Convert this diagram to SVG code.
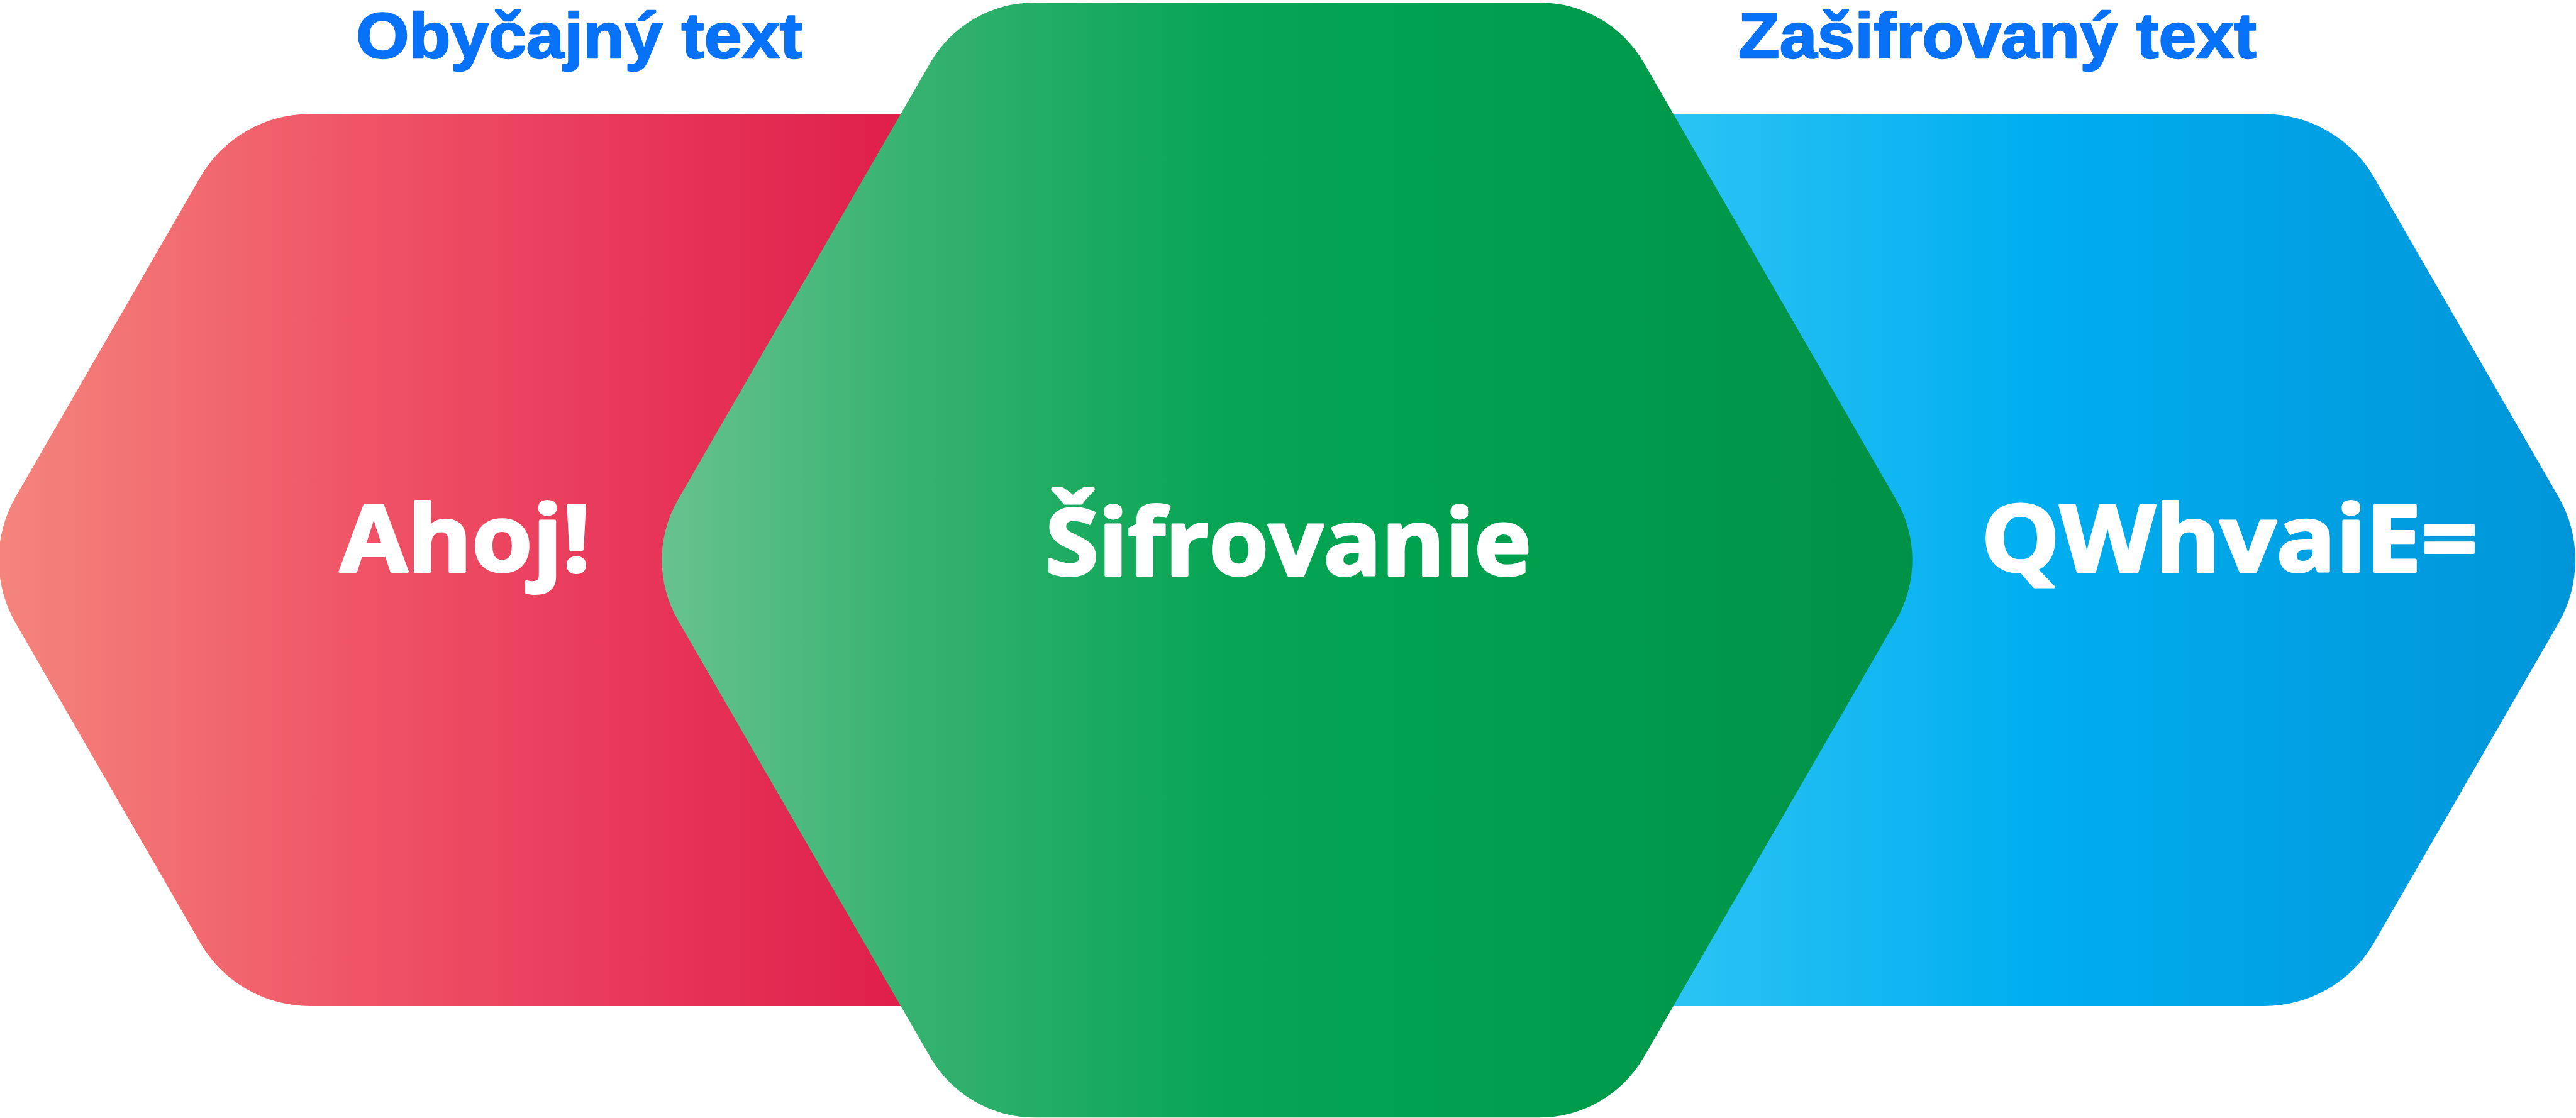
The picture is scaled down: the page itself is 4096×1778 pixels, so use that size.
<svg xmlns="http://www.w3.org/2000/svg" width="4096" height="1778" viewBox="0 0 4096 1778">
  <defs>
    <linearGradient id="gRed" gradientUnits="userSpaceOnUse" x1="0" y1="0" x2="1460" y2="0">
      <stop offset="0" stop-color="#f4857c"/>
      <stop offset="0.4" stop-color="#ef5466"/>
      <stop offset="0.7" stop-color="#e8375a"/>
      <stop offset="1" stop-color="#de1f4a"/>
    </linearGradient>
    <linearGradient id="gGreen" gradientUnits="userSpaceOnUse" x1="1074" y1="0" x2="3094" y2="0">
      <stop offset="0" stop-color="#67c28e"/>
      <stop offset="0.2" stop-color="#36b270"/>
      <stop offset="0.45" stop-color="#06a553"/>
      <stop offset="0.6" stop-color="#00a24f"/>
      <stop offset="1" stop-color="#009146"/>
    </linearGradient>
    <linearGradient id="gBlue" gradientUnits="userSpaceOnUse" x1="2700" y1="0" x2="4167" y2="0">
      <stop offset="0" stop-color="#2cc4f4"/>
      <stop offset="0.4" stop-color="#00aeef"/>
      <stop offset="1" stop-color="#0095d9"/>
    </linearGradient>
  </defs>
  <style>
    .big { font-family: 'Open Sans', 'Liberation Sans', sans-serif; font-weight: 700; font-size: 150px; fill: #ffffff; stroke: #ffffff; stroke-width: 4px; stroke-linejoin: round; }
    .lbl { font-family: 'Liberation Sans', Arial, sans-serif; font-weight: 700; font-size: 103px; fill: #0771f7; stroke: #0771f7; stroke-width: 2.5px; stroke-linejoin: round; }
  </style>
  <rect width="4096" height="1778" fill="#ffffff"/>
  <g transform="scale(0.98296)">
    <g id="node-plain">
      <path fill="url(#gRed)" d="M25.5,803.5 L323.8,286.8 A205,205 0 0 1 501.4,184.3 L1681.6,184.3 A205,205 0 0 1 1859.2,286.8 L2157.5,803.5 A205,205 0 0 1 2157.5,1008.5 L1859.2,1525.2 A205,205 0 0 1 1681.6,1627.7 L501.4,1627.7 A205,205 0 0 1 323.8,1525.2 L25.5,1008.5 A205,205 0 0 1 25.5,803.5 Z"/>
      <text class="big" x="550" y="925" textLength="405" lengthAdjust="spacingAndGlyphs">Ahoj!</text>
      <text class="lbl" x="576" y="94" textLength="722" lengthAdjust="spacingAndGlyphs">Obyčajný text</text>
    </g>
    <g id="node-cipher">
      <path fill="url(#gBlue)" d="M2006.5,803.5 L2304.8,286.8 A205,205 0 0 1 2482.4,184.3 L3662.6,184.3 A205,205 0 0 1 3840.2,286.8 L4138.5,803.5 A205,205 0 0 1 4138.5,1008.5 L3840.2,1525.2 A205,205 0 0 1 3662.6,1627.7 L2482.4,1627.7 A205,205 0 0 1 2304.8,1525.2 L2006.5,1008.5 A205,205 0 0 1 2006.5,803.5 Z"/>
      <text class="big" x="3205" y="925" textLength="803" lengthAdjust="spacingAndGlyphs">QWhvaiE=</text>
      <text class="lbl" x="2812" y="94" textLength="838" lengthAdjust="spacingAndGlyphs">Zašifrovaný text</text>
    </g>
    <g id="node-encrypt">
      <path fill="url(#gGreen)" d="M1096.7,808.5 L1504.9,101.5 A195,195 0 0 1 1673.8,4 L2490.2,4 A195,195 0 0 1 2659.1,101.5 L3067.3,808.5 A195,195 0 0 1 3067.3,1003.5 L2659.1,1710.5 A195,195 0 0 1 2490.2,1808 L1673.8,1808 A195,195 0 0 1 1504.9,1710.5 L1096.7,1003.5 A195,195 0 0 1 1096.7,808.5 Z"/>
      <text class="big" x="1691" y="931" textLength="786" lengthAdjust="spacingAndGlyphs">Šifrovanie</text>
    </g>
    <g id="connectors"/>
  </g>
</svg>
